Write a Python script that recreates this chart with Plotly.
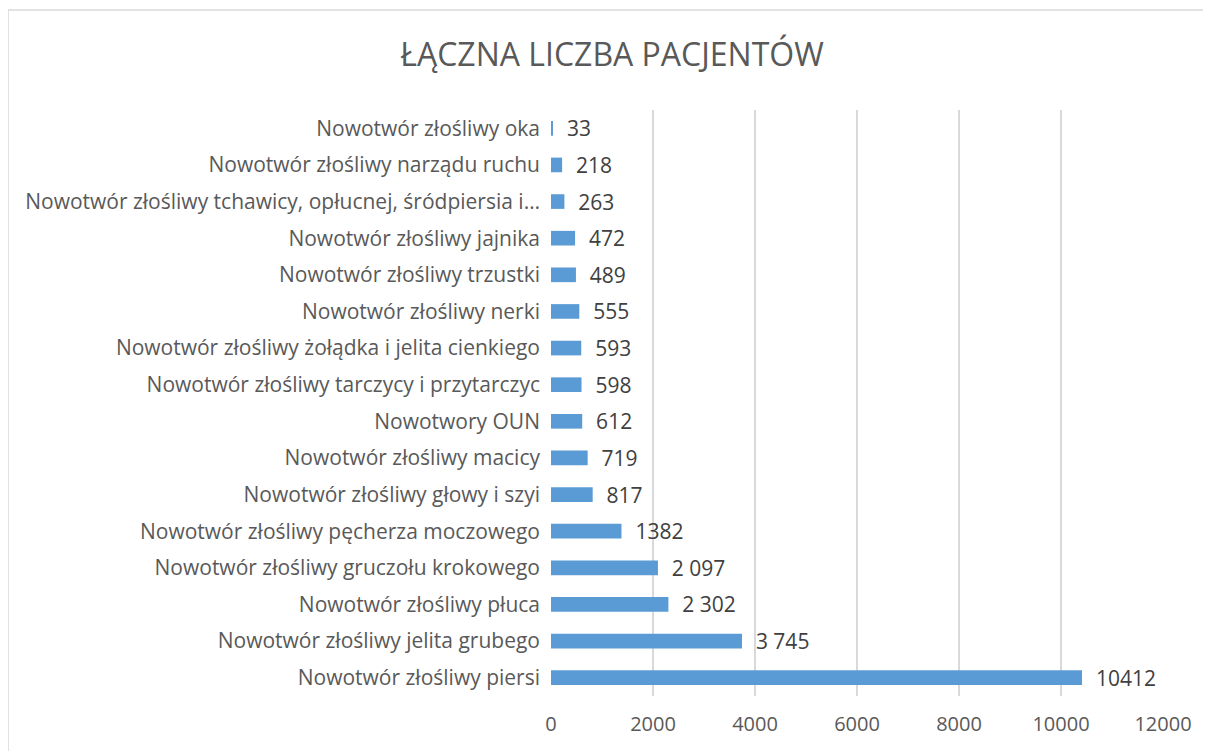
import plotly.graph_objects as go

categories = [
    "Nowotwór złośliwy oka",
    "Nowotwór złośliwy narządu ruchu",
    "Nowotwór złośliwy tchawicy, opłucnej, śródpiersia i…",
    "Nowotwór złośliwy jajnika",
    "Nowotwór złośliwy trzustki",
    "Nowotwór złośliwy nerki",
    "Nowotwór złośliwy żołądka i jelita cienkiego",
    "Nowotwór złośliwy tarczycy i przytarczyc",
    "Nowotwory OUN",
    "Nowotwór złośliwy macicy",
    "Nowotwór złośliwy głowy i szyi",
    "Nowotwór złośliwy pęcherza moczowego",
    "Nowotwór złośliwy gruczołu krokowego",
    "Nowotwór złośliwy płuca",
    "Nowotwór złośliwy jelita grubego",
    "Nowotwór złośliwy piersi",
]
values = [33, 218, 263, 472, 489, 555, 593, 598, 612, 719, 817, 1382, 2097, 2302, 3745, 10412]
value_labels = ["33", "218", "263", "472", "489", "555", "593", "598", "612", "719", "817",
                "1382", "2 097", "2 302", "3 745", "10412"]
x_ticks = [0, 2000, 4000, 6000, 8000, 10000, 12000]
title_text = "ŁĄCZNA LICZBA PACJENTÓW"

FONT = "Open Sans"
OFF = 8  # page body margin
W, H = 1211 - OFF, 751 - OFF
L, T = 551 - OFF, 110 - OFF
R = W - (1163 - OFF)
B = H - (696 - OFF)

fig = go.Figure(go.Bar(
    y=categories, x=values, orientation="h",
    marker=dict(color="#5B9BD5", line=dict(width=0)),
    width=0.4,
    text=["  " + s for s in value_labels], textposition="outside",
    constraintext="none",
    textfont=dict(family=FONT, size=21, color="#404040"),
    cliponaxis=False,
    hoverinfo="x+y",
))

pw, ph = W - L - R, H - T - B
bx0 = (8 - OFF - L) / pw
by1 = (H - B - (10 - OFF)) / ph
fig.add_shape(type="rect", xref="paper", yref="paper",
              x0=bx0, x1=(W + 20 - L) / pw, y0=-(B + 20) / ph, y1=by1,
              line=dict(color="#D9D9D9", width=1.5), layer="below")

fig.update_layout(
    width=W, height=H,
    margin=dict(l=L, r=R, t=T, b=B, autoexpand=False),
    paper_bgcolor="white", plot_bgcolor="white",
    showlegend=False,
    title=dict(text=title_text, x=(612 - OFF) / W, xanchor="center", xref="container",
               y=1 - (55 - OFF) / H, yanchor="middle", yref="container",
               font=dict(family=FONT, size=32, color="#595959")),
    xaxis=dict(range=[0, 12000], tickvals=x_ticks, ticktext=[str(v) for v in x_ticks],
               showgrid=True, gridcolor="#D9D9D9", gridwidth=1.5,
               zeroline=False, showline=False, ticks="",
               tickfont=dict(family=FONT, size=20, color="#595959"),
               ticklabelstandoff=14, fixedrange=True),
    yaxis=dict(autorange="reversed", showgrid=False, zeroline=False, showline=False,
               ticks="", tickfont=dict(family=FONT, size=21, color="#595959"),
               ticklabelstandoff=10, automargin=False, fixedrange=True),
)

fig.write_html("out.html")
